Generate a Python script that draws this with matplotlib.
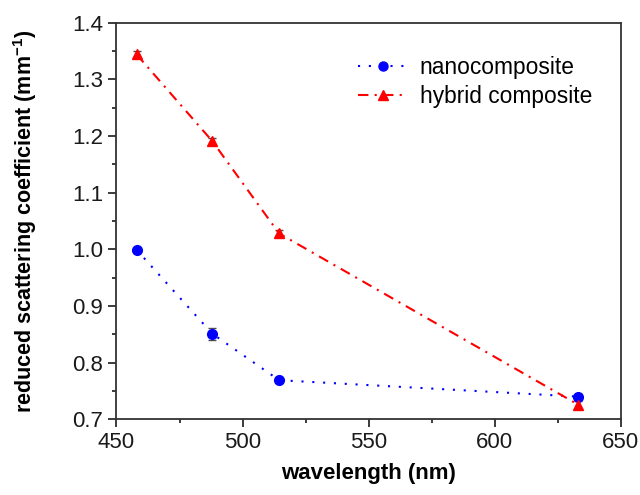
import numpy as np
import matplotlib
matplotlib.use("Agg")
import matplotlib.pyplot as plt
from matplotlib.ticker import MultipleLocator, FormatStrFormatter
from matplotlib.lines import Line2D

plt.rcParams['font.family'] = ['Liberation Sans', 'DejaVu Sans']
plt.rcParams['mathtext.fontset'] = 'custom'
plt.rcParams['mathtext.rm'] = 'Liberation Sans'
plt.rcParams['mathtext.bf'] = 'Liberation Sans:bold'

wavelength = [458, 488, 514.5, 633]
nano = [0.999, 0.851, 0.769, 0.740]
nano_err = [0.004, 0.011, 0.004, 0.004]
hybrid = [1.344, 1.191, 1.028, 0.726]
hybrid_err = [0.006, 0.006, 0.006, 0.006]

dot_style = (0, (1, 4.2))
dashdot_style = (0, (5, 3, 1, 3))

fig = plt.figure(figsize=(6.4, 4.95), dpi=100)
ax = fig.add_axes([0.182, 0.153, 0.788, 0.801])

ax.errorbar(wavelength, nano, yerr=nano_err, color='blue', ls=dot_style, lw=1.5,
            marker='o', ms=7, ecolor='0.3', elinewidth=0.8, capsize=3)
ax.errorbar(wavelength, hybrid, yerr=hybrid_err, color='red', ls=dashdot_style, lw=1.5,
            marker='^', ms=7, ecolor='0.3', elinewidth=0.8, capsize=3)

ax.set_xlim(450, 650)
ax.set_ylim(0.7, 1.4)
ax.xaxis.set_major_locator(MultipleLocator(50))
ax.xaxis.set_minor_locator(MultipleLocator(25))
ax.yaxis.set_major_locator(MultipleLocator(0.1))
ax.yaxis.set_minor_locator(MultipleLocator(0.05))
ax.yaxis.set_major_formatter(FormatStrFormatter('%.1f'))
ax.tick_params(which='major', direction='out', length=6, width=1.2, pad=3.5,
               labelsize=16, colors='0.1')
ax.tick_params(which='minor', direction='out', length=3, width=1.2, colors='0.1')
for s in ax.spines.values():
    s.set_linewidth(1.3)
    s.set_color('0.2')

ax.set_xlabel('wavelength (nm)', fontsize=16, fontweight='bold', labelpad=7)
ax.set_ylabel('reduced scattering coefficient (mm$^{\\mathbf{-1}}$)', fontsize=15.5,
              fontweight='bold', labelpad=24)

handles = [Line2D([], [], color='blue', ls=dot_style, lw=1.5, marker='o', ms=6.5),
           Line2D([], [], color='red', ls=dashdot_style, lw=1.5, marker='^', ms=6.5)]
ax.legend(handles, ['nanocomposite', 'hybrid composite'], loc='upper left',
          bbox_to_anchor=(0.479, 0.915), frameon=False, fontsize=16.4,
          borderpad=0, borderaxespad=0,
          handlelength=2.2, labelspacing=0.25, handletextpad=0.5)

fig.savefig('out.png', dpi=100)
plt.close()
